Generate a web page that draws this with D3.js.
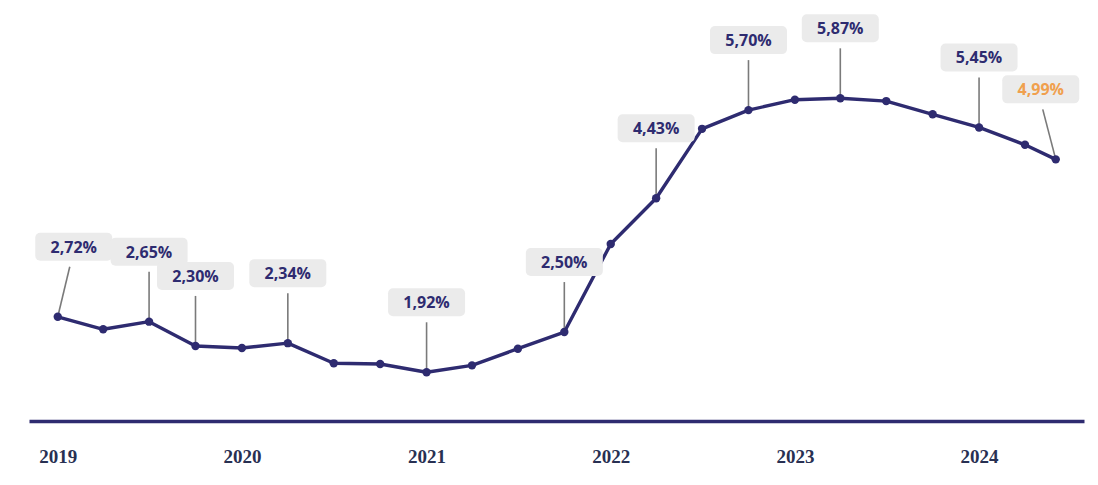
<!doctype html>
<html>
<head>
<meta charset="utf-8">
<script src="https://cdn.jsdelivr.net/npm/d3@7"></script>
<style>
  html, body { margin: 0; padding: 0; background: #fff; }
  svg { display: block; }
</style>
</head>
<body>
<div id="chart"></div>
<script>
// Quarterly observations (last point is June 2024)
const dates = [
  "2019-01-01", "2019-04-01", "2019-07-01", "2019-10-01",
  "2020-01-01", "2020-04-01", "2020-07-01", "2020-10-01",
  "2021-01-01", "2021-04-01", "2021-07-01", "2021-10-01",
  "2022-01-01", "2022-04-01", "2022-07-01", "2022-10-01",
  "2023-01-01", "2023-04-01", "2023-07-01", "2023-10-01",
  "2024-01-01", "2024-04-01", "2024-06-01"
];
const rates = [
  2.72, 2.54, 2.65, 2.30,
  2.27, 2.34, 2.05, 2.04,
  1.92, 2.02, 2.26, 2.50,
  3.77, 4.43, 5.43, 5.70,
  5.85, 5.87, 5.83, 5.64,
  5.45, 5.20, 4.99
];
// Callout text per point (null = no callout)
const callouts = [
  "2,72%", null, "2,65%", "2,30%",
  null, "2,34%", null, null,
  "1,92%", null, null, "2,50%",
  null, "4,43%", null, "5,70%",
  null, "5,87%", null, null,
  "5,45%", null, "4,99%"
];
const yearTicks = ["2019", "2020", "2021", "2022", "2023", "2024"];

const width = 1098;
const height = 485;
const navy = "#2e2b70";
const orange = "#f0a04e";

const parse = d3.utcParse("%Y-%m-%d");
const data = dates.map((d, i) => ({
  date: parse(d),
  value: rates[i],
  label: callouts[i],
  last: i === dates.length - 1,
  first: i === 0,
}));

const x = d3.scaleUtc()
  .domain([parse("2018-11-05"), parse("2024-07-27")])
  .range([29, 1084]);

const y = d3.scaleLinear()
  .domain([1, 6])
  .range([436.1, 89.3]);

const svg = d3.select("#chart")
  .append("svg")
  .attr("width", width)
  .attr("height", height)
  .style("font-family", '"Open Sans", "Noto Sans", sans-serif');

// Baseline axis with year labels
const xAxis = d3.axisBottom(x)
  .tickValues(yearTicks.map((t) => parse(`${t}-01-01`)))
  .tickFormat(d3.utcFormat("%Y"))
  .tickSize(0)
  .tickSizeOuter(0)
  .tickPadding(29);

const xG = svg.append("g")
  .attr("transform", "translate(0, 421)")
  .call(xAxis);

xG.select(".domain")
  .attr("stroke", navy)
  .attr("stroke-width", 3.4);
xG.selectAll("text")
  .attr("fill", "#283052")
  .attr("font-family", '"Liberation Serif", "DejaVu Serif", serif')
  .attr("font-weight", 700)
  .attr("font-size", 19);

// Line
const line = d3.line()
  .x((d) => x(d.date))
  .y((d) => y(d.value));

svg.append("path")
  .datum(data)
  .attr("fill", "none")
  .attr("stroke", navy)
  .attr("stroke-width", 3.4)
  .attr("stroke-linejoin", "round")
  .attr("d", line);

// Callouts
const boxW = 77;
const boxH = 28;
const labelled = data.filter((d) => d.label);

// edge labels are nudged inward
const shift = (d) => (d.first ? 16 : d.last ? -15 : 0);
const tipShift = (d) => (d.first ? 12 : d.last ? -13 : 0);

const cg = svg.append("g");

cg.selectAll("line.leader")
  .data(labelled)
  .join("line")
  .attr("class", "leader")
  .attr("x1", (d) => x(d.date) + tipShift(d))
  .attr("y1", (d) => y(d.value) - 50)
  .attr("x2", (d) => x(d.date))
  .attr("y2", (d) => y(d.value))
  .attr("stroke", "#7a7a7a")
  .attr("stroke-width", 1.6);

cg.selectAll("rect.box")
  .data(labelled)
  .join("rect")
  .attr("class", "box")
  .attr("x", (d) => x(d.date) + shift(d) - boxW / 2)
  .attr("y", (d) => y(d.value) - 56 - boxH)
  .attr("width", boxW)
  .attr("height", boxH)
  .attr("rx", 5)
  .attr("fill", "#ebebeb");

cg.selectAll("text.val")
  .data(labelled)
  .join("text")
  .attr("class", "val")
  .attr("x", (d) => x(d.date) + shift(d))
  .attr("y", (d) => y(d.value) - 56 - boxH / 2 + 6)
  .attr("text-anchor", "middle")
  .attr("font-size", 16)
  .attr("font-weight", 700)
  .attr("fill", (d) => (d.last ? orange : navy))
  .text((d) => d.label);

// Points
svg.append("g")
  .selectAll("circle")
  .data(data)
  .join("circle")
  .attr("cx", (d) => x(d.date))
  .attr("cy", (d) => y(d.value))
  .attr("r", 4.2)
  .attr("fill", navy);
</script>
</body>
</html>
